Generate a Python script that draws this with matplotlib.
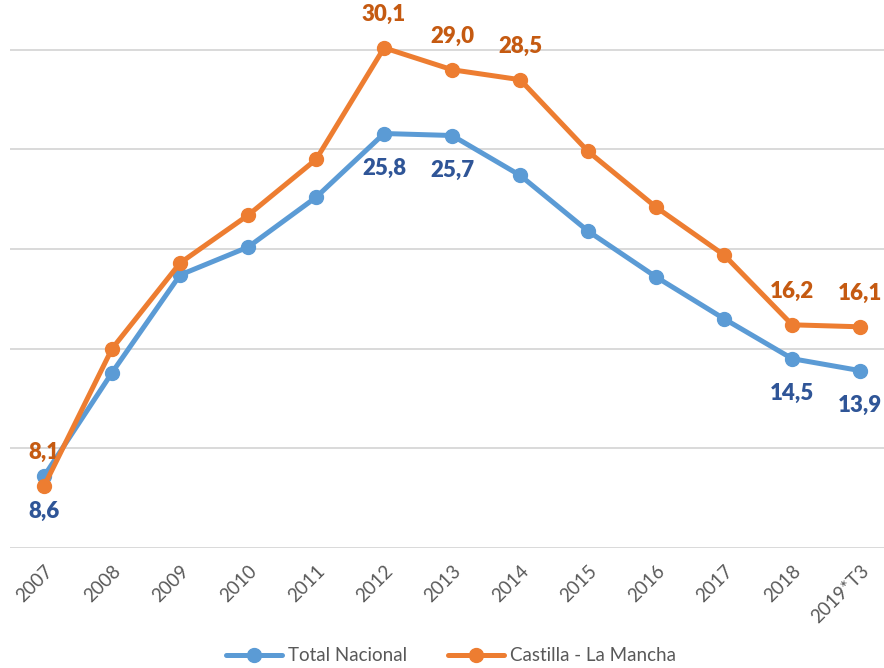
import matplotlib
matplotlib.use('Agg')
import matplotlib.pyplot as plt

years = ['2007', '2008', '2009', '2010', '2011', '2012', '2013',
         '2014', '2015', '2016', '2017', '2018', '2019*T3']
total_nacional = [8.6, 13.8, 18.7, 20.1, 22.6, 25.8, 25.7, 23.7, 20.9, 18.6, 16.5, 14.5, 13.9]
castilla_lm = [8.1, 15.0, 19.3, 21.7, 24.5, 30.1, 29.0, 28.5, 24.9, 22.1, 19.7, 16.2, 16.1]

# which points carry a value label
labelled = [0, 5, 6, 11, 12]
labelled_clm = [0, 5, 6, 7, 11, 12]

BLUE = '#5B9BD5'
ORANGE = '#ED7D31'
BLUE_TXT = '#2F5597'
ORANGE_TXT = '#C55A11'
GREY = '#595959'

plt.rcParams['font.family'] = ['Lato', 'DejaVu Sans']

fig = plt.figure(figsize=(8.84, 6.68), dpi=100)
ax = fig.add_axes([10 / 884, 1 - 548 / 668, 874 / 884, 548 / 668])

x = list(range(len(years)))
ax.plot(x, total_nacional, color=BLUE, lw=3.6, marker='o', ms=10,
        label='Total Nacional', solid_capstyle='round', zorder=3)
ax.plot(x, castilla_lm, color=ORANGE, lw=3.6, marker='o', ms=10,
        label='Castilla - La Mancha', solid_capstyle='round', zorder=4)

def fmt(v):
    return f'{v:.1f}'.replace('.', ',')

for i in labelled:
    ax.annotate(fmt(total_nacional[i]), (i, total_nacional[i]), xytext=(0, -25),
                textcoords='offset points', ha='center', va='center',
                fontsize=16, fontweight='heavy', color=BLUE_TXT,
                annotation_clip=False)
for i in labelled_clm:
    ax.annotate(fmt(castilla_lm[i]), (i, castilla_lm[i]), xytext=(0, 24),
                textcoords='offset points', ha='center', va='center',
                fontsize=16, fontweight='heavy', color=ORANGE_TXT,
                annotation_clip=False)

ax.set_xlim(-0.5, 12.35)
ax.set_ylim(5, 32.5)
ax.set_yticks([5, 10, 15, 20, 25, 30])
ax.yaxis.grid(True, color='#D9D9D9', lw=1.4)
ax.tick_params(axis='y', length=0, labelleft=False)
ax.set_xticks(x)
ax.set_xticklabels(years, rotation=45, ha='right', rotation_mode='anchor',
                   fontsize=13.5, color=GREY)
ax.tick_params(axis='x', length=0, pad=10)
for s in ax.spines.values():
    s.set_visible(False)
ax.set_axisbelow(True)

fig.legend(loc='lower center', bbox_to_anchor=(0.51, -0.02), ncol=2,
           frameon=False, fontsize=13.5, labelcolor=GREY, handlelength=3.0,
           columnspacing=2.2, handletextpad=0.3)

plt.savefig('out.png', dpi=100)
